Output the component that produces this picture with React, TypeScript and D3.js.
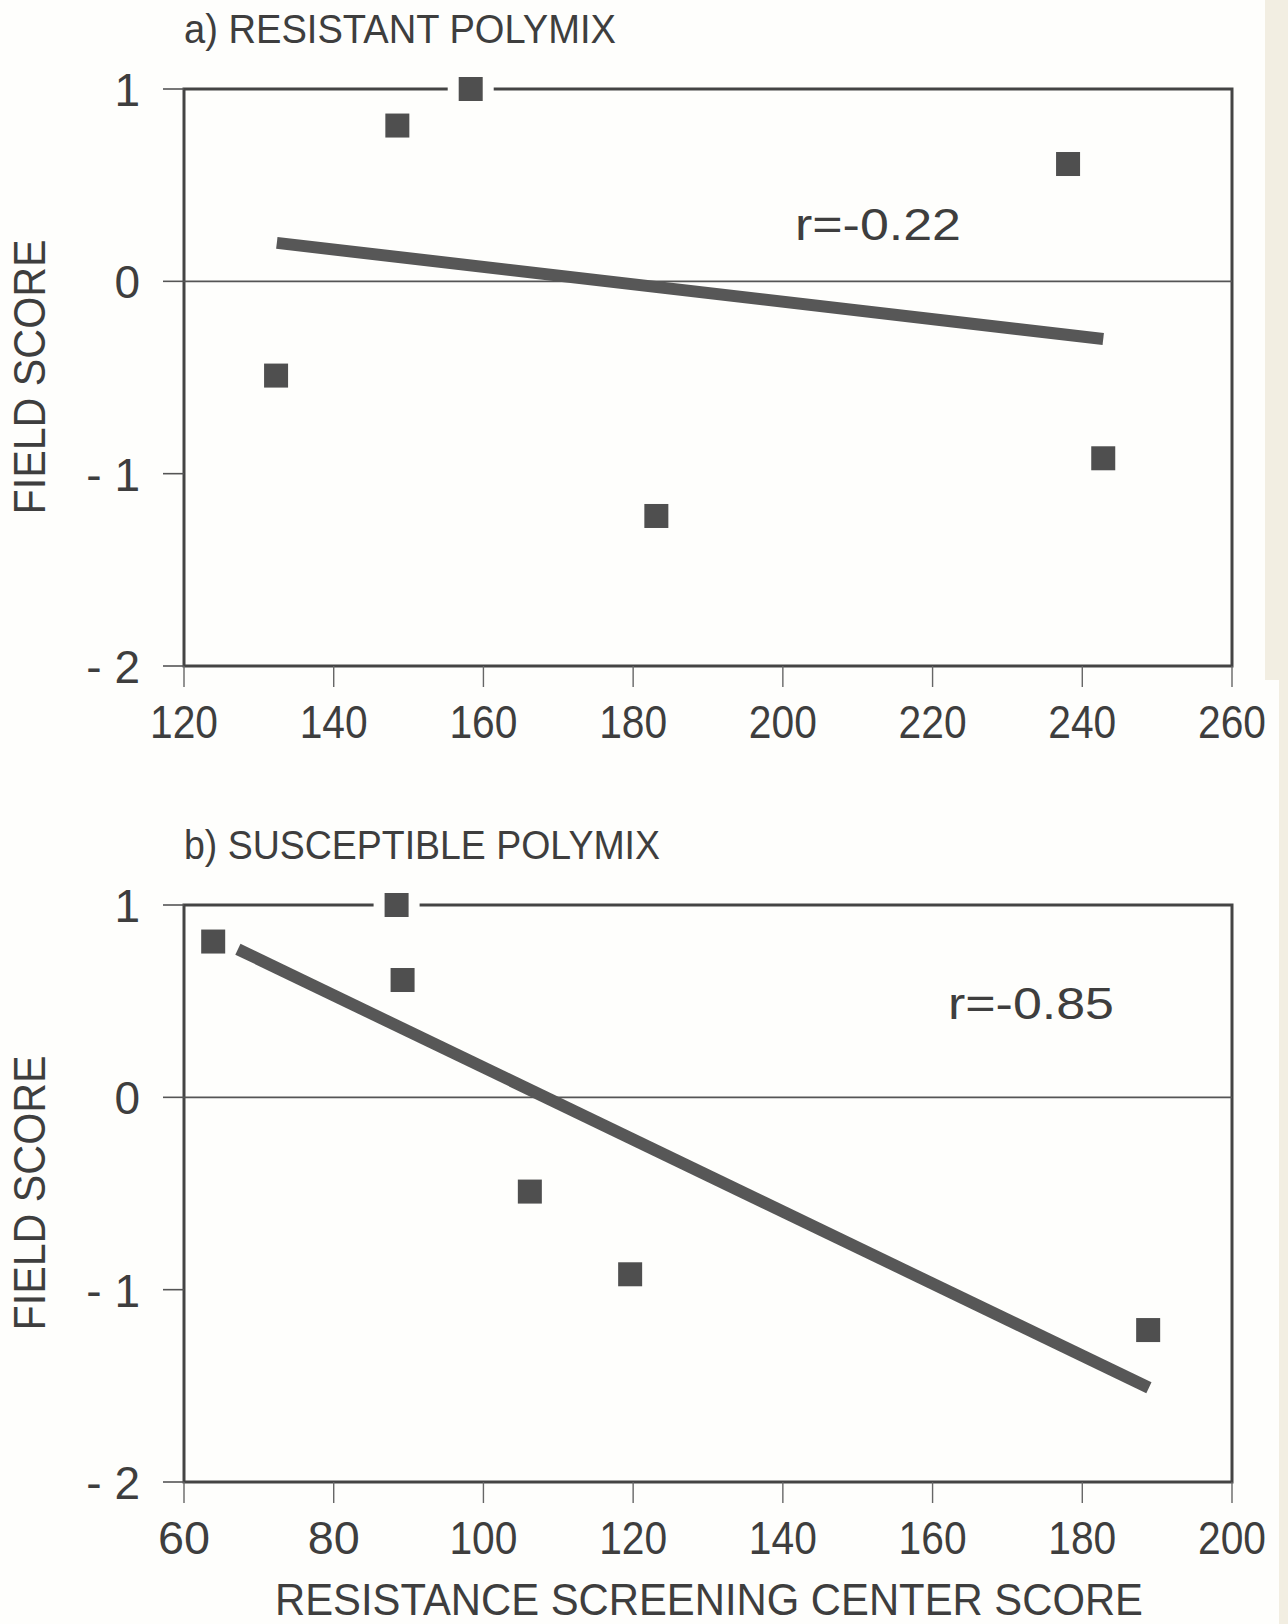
import * as d3 from "d3";

// field scores are the same families in both panels
const resistantX = [132.3, 148.5, 158.3, 183.1, 238.1, 242.8];
const resistantY = [-0.49, 0.81, 1.0, -1.22, 0.61, -0.92];
const resistantFit = [
  { x: 132.4, y: 0.2 },
  { x: 242.8, y: -0.3 },
];

const susceptibleX = [63.9, 88.4, 89.2, 106.2, 119.6, 188.8];
const susceptibleY = [0.81, 1.0, 0.61, -0.49, -0.92, -1.21];
const susceptibleFit = [
  { x: 67.2, y: 0.77 },
  { x: 188.9, y: -1.51 },
];

const resistantTicks = [120, 140, 160, 180, 200, 220, 240, 260];
const susceptibleTicks = [60, 80, 100, 120, 140, 160, 180, 200];
const yTicks = [1, 0, -1, -2];
const yTickLabels = ["1", "0", "- 1", "- 2"];

const INK = "#3e3e3e";
const FONT = "'Liberation Sans Narrow', 'Liberation Sans', Arial, sans-serif";

type PanelProps = {
  title: string;
  titleLen: number;
  top: number;
  xs: number[];
  ys: number[];
  fit: { x: number; y: number }[];
  ticks: number[];
  rLabel: string;
  rX: number;
  rY: number;
};

const Panel = ({ title, titleLen, top, xs, ys, fit, ticks, rLabel, rX, rY }: PanelProps) => {
  const left = 184,
    right = 1232,
    height = 577;
  const bottom = top + height;

  const x = d3
    .scaleLinear()
    .domain([ticks[0], ticks[ticks.length - 1]])
    .range([left, right]);
  const y = d3.scaleLinear().domain([-2, 1]).range([bottom, top]);

  const line = d3
    .line<{ x: number; y: number }>()
    .x((d) => x(d.x))
    .y((d) => y(d.y));

  const sq = 24;
  const halo = 46;

  return (
    <g>
      <text x={left} y={top - 46} fontSize={41} fill={INK} textLength={titleLen} lengthAdjust="spacingAndGlyphs">
        {title}
      </text>

      {/* frame */}
      <rect x={left} y={top} width={right - left} height={height} fill="none" stroke="#444" strokeWidth={3} />
      <line x1={left} x2={right} y1={y(0)} y2={y(0)} stroke="#555" strokeWidth={1.6} />

      {yTicks.map((t, i) => (
        <g key={t}>
          <line x1={left - 21} x2={left} y1={y(t)} y2={y(t)} stroke="#555" strokeWidth={1.6} />
          <text x={140} y={y(t) + 17} fontSize={46} fill={INK} textAnchor="end">
            {yTickLabels[i]}
          </text>
        </g>
      ))}

      {ticks.map((t) => (
        <g key={t}>
          <line x1={x(t)} x2={x(t)} y1={bottom} y2={bottom + 21} stroke="#666" strokeWidth={1.4} />
          <text
            x={x(t)}
            y={bottom + 72}
            fontSize={46}
            fill={INK}
            textAnchor="middle"
            textLength={String(t).length === 3 ? 68 : 52}
            lengthAdjust="spacingAndGlyphs"
          >
            {t}
          </text>
        </g>
      ))}

      <text
        transform={`translate(45,${top + 288}) rotate(-90)`}
        fontSize={45}
        fill={INK}
        textAnchor="middle"
        textLength={275}
        lengthAdjust="spacingAndGlyphs"
      >
        FIELD SCORE
      </text>

      {xs.map((d, i) => (
        <rect key={"h" + i} x={x(d) - halo / 2} y={y(ys[i]) - halo / 2} width={halo} height={halo} fill="#fefefc" />
      ))}
      {xs.map((d, i) => (
        <rect key={"p" + i} x={x(d) - sq / 2} y={y(ys[i]) - sq / 2} width={sq} height={sq} fill="#4f4f4f" />
      ))}

      <path d={line(fit) ?? ""} fill="none" stroke="#575757" strokeWidth={12} />

      <text x={rX} y={rY} fontSize={44} fill={INK} textLength={166} lengthAdjust="spacingAndGlyphs">
        {rLabel}
      </text>
    </g>
  );
};

export default function App() {
  return (
    <svg
      width={1288}
      height={1624}
      style={{ position: "absolute", left: 0, top: 0, background: "#fefefc" }}
      fontFamily={FONT}
    >
      <rect x={0} y={0} width={1288} height={1624} fill="#fefefc" />
      <rect x={1265} y={0} width={23} height={680} fill="#f2eee2" />
      <rect x={1279} y={680} width={9} height={944} fill="#f2eee2" />
      <Panel
        title="a) RESISTANT POLYMIX"
        titleLen={432}
        top={89}
        xs={resistantX}
        ys={resistantY}
        fit={resistantFit}
        ticks={resistantTicks}
        rLabel="r=-0.22"
        rX={795}
        rY={240}
      />
      <Panel
        title="b) SUSCEPTIBLE POLYMIX"
        titleLen={476}
        top={905}
        xs={susceptibleX}
        ys={susceptibleY}
        fit={susceptibleFit}
        ticks={susceptibleTicks}
        rLabel="r=-0.85"
        rX={948}
        rY={1019}
      />
      <text
        x={275}
        y={1615}
        fontSize={45}
        fill={INK}
        textLength={868}
        lengthAdjust="spacingAndGlyphs"
      >
        RESISTANCE SCREENING CENTER SCORE
      </text>
    </svg>
  );
}
